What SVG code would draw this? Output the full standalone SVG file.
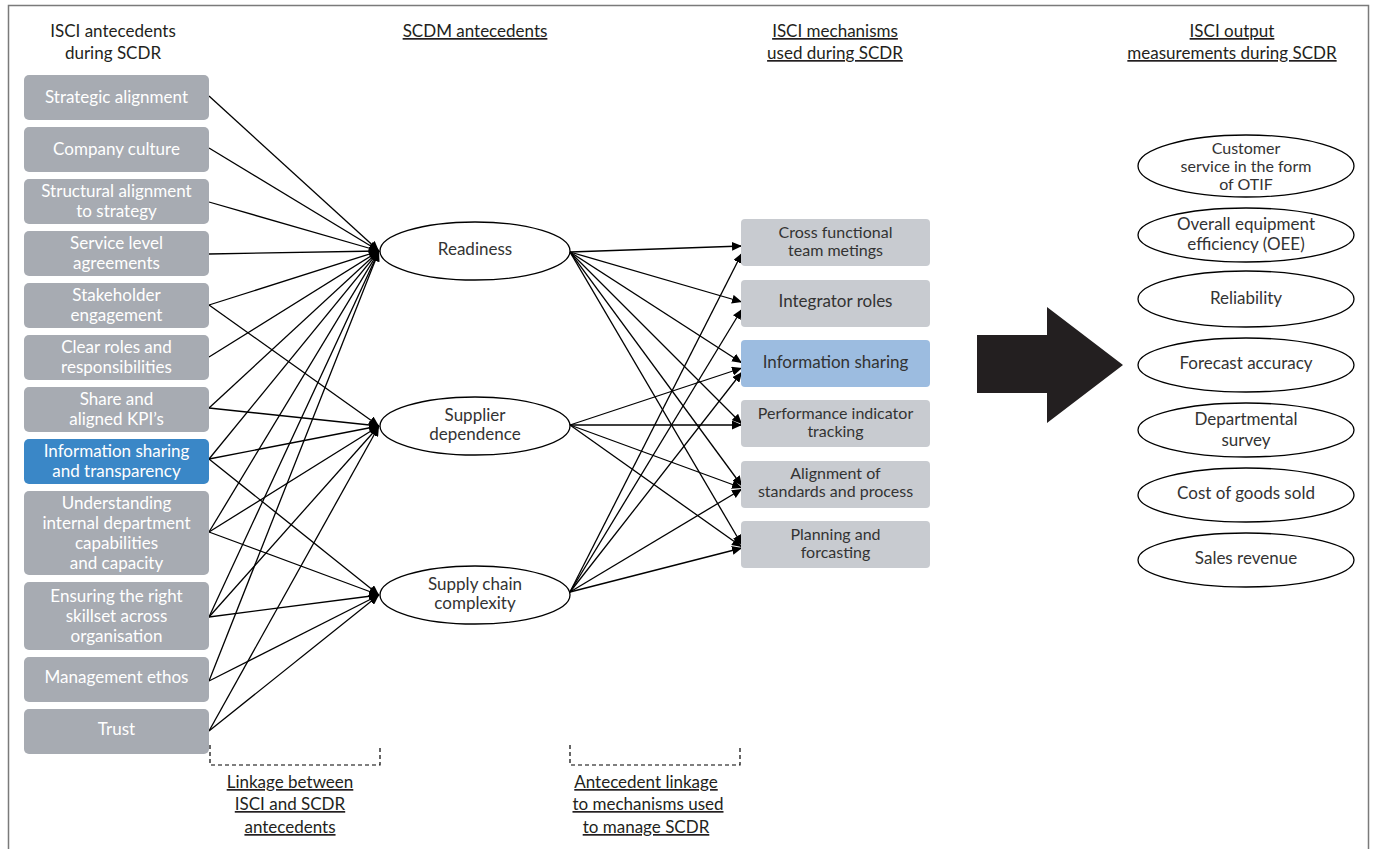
<svg xmlns="http://www.w3.org/2000/svg" width="1375" height="849" viewBox="0 0 1375 849">
<defs>
<marker id="ah" markerUnits="userSpaceOnUse" markerWidth="11" markerHeight="9" refX="10" refY="4.5" orient="auto">
<path d="M0,0 L10,4.5 L0,9 z" fill="#000"/>
</marker>
<style>
text{font-family:Lato,"Liberation Sans",sans-serif;font-size:17px;text-anchor:middle}
.hd{fill:#231f20}
.u{text-decoration:underline}
.lb{fill:#a7abb2}
.lbb{fill:#3a87c7}
.lt{fill:#fff}
.mb{fill:#c8cbd0}
.mbb{fill:#9cbce0}
.mt{fill:#333}
.sm{font-size:16px}
.el{fill:#fff;stroke:#000;stroke-width:1.3}
.cn line{stroke:#000;stroke-width:1.3;marker-end:url(#ah)}
.br{fill:none;stroke:#000;stroke-width:1.2;stroke-dasharray:4,3}
</style>
</defs>
<rect x="8.5" y="5.5" width="1360" height="860" fill="#fff" stroke="#7a7a7a" stroke-width="1.5"/>

<g id="headers" class="hd">
<text x="113" y="37">ISCI antecedents</text>
<text x="113" y="59">during SCDR</text>
<text x="475" y="37" class="u">SCDM antecedents</text>
<text x="835" y="37" class="u">ISCI mechanisms</text>
<text x="835" y="59" class="u">used during SCDR</text>
<text x="1232" y="37" class="u">ISCI output</text>
<text x="1232" y="59" class="u">measurements during SCDR</text>
</g>

<g id="connectors" class="cn">
<line x1="209" y1="96" x2="379" y2="251"/>
<line x1="209" y1="148" x2="379" y2="251"/>
<line x1="209" y1="202" x2="379" y2="251"/>
<line x1="209" y1="254" x2="379" y2="251"/>
<line x1="209" y1="305" x2="379" y2="251"/>
<line x1="209" y1="305" x2="379" y2="426"/>
<line x1="209" y1="357" x2="379" y2="251"/>
<line x1="209" y1="408" x2="379" y2="251"/>
<line x1="209" y1="408" x2="379" y2="426"/>
<line x1="209" y1="459" x2="379" y2="251"/>
<line x1="209" y1="459" x2="379" y2="426"/>
<line x1="209" y1="459" x2="379" y2="595"/>
<line x1="209" y1="532" x2="379" y2="251"/>
<line x1="209" y1="532" x2="379" y2="426"/>
<line x1="209" y1="532" x2="379" y2="595"/>
<line x1="209" y1="617" x2="379" y2="251"/>
<line x1="209" y1="617" x2="379" y2="426"/>
<line x1="209" y1="617" x2="379" y2="595"/>
<line x1="209" y1="681" x2="379" y2="251"/>
<line x1="209" y1="681" x2="379" y2="595"/>
<line x1="209" y1="731" x2="379" y2="426"/>
<line x1="209" y1="731" x2="379" y2="595"/>

<line x1="570" y1="252" x2="742" y2="246"/>
<line x1="570" y1="252" x2="742" y2="302"/>
<line x1="570" y1="252" x2="742" y2="363"/>
<line x1="570" y1="252" x2="742" y2="424"/>
<line x1="570" y1="252" x2="742" y2="486"/>
<line x1="570" y1="252" x2="742" y2="545"/>
<line x1="570" y1="425" x2="742" y2="368"/>
<line x1="570" y1="425" x2="742" y2="425"/>
<line x1="570" y1="425" x2="742" y2="488"/>
<line x1="570" y1="425" x2="742" y2="547"/>
<line x1="570" y1="592" x2="742" y2="253"/>
<line x1="570" y1="592" x2="742" y2="309"/>
<line x1="570" y1="592" x2="742" y2="372"/>
<line x1="570" y1="592" x2="742" y2="489"/>
<line x1="570" y1="592" x2="742" y2="548"/>
</g>

<g id="ant1"><rect class="lb" x="24" y="75" width="185" height="45" rx="5"/><text class="lt" x="116.5" y="103">Strategic alignment</text></g>
<g id="ant2"><rect class="lb" x="24" y="127" width="185" height="45" rx="5"/><text class="lt" x="116.5" y="155">Company culture</text></g>
<g id="ant3"><rect class="lb" x="24" y="179" width="185" height="45" rx="5"/><text class="lt" x="116.5" y="197">Structural alignment</text><text class="lt" x="116.5" y="217">to strategy</text></g>
<g id="ant4"><rect class="lb" x="24" y="231" width="185" height="45" rx="5"/><text class="lt" x="116.5" y="249">Service level</text><text class="lt" x="116.5" y="269">agreements</text></g>
<g id="ant5"><rect class="lb" x="24" y="283" width="185" height="45" rx="5"/><text class="lt" x="116.5" y="301">Stakeholder</text><text class="lt" x="116.5" y="321">engagement</text></g>
<g id="ant6"><rect class="lb" x="24" y="335" width="185" height="45" rx="5"/><text class="lt" x="116.5" y="353">Clear roles and</text><text class="lt" x="116.5" y="373">responsibilities</text></g>
<g id="ant7"><rect class="lb" x="24" y="387" width="185" height="45" rx="5"/><text class="lt" x="116.5" y="405">Share and</text><text class="lt" x="116.5" y="425">aligned KPI’s</text></g>
<g id="ant8"><rect class="lbb" x="24" y="439" width="185" height="45" rx="5"/><text class="lt" x="116.5" y="457">Information sharing</text><text class="lt" x="116.5" y="477">and transparency</text></g>
<g id="ant9"><rect class="lb" x="24" y="491" width="185" height="84" rx="5"/><text class="lt" x="116.5" y="509">Understanding</text><text class="lt" x="116.5" y="529">internal department</text><text class="lt" x="116.5" y="549">capabilities</text><text class="lt" x="116.5" y="569">and capacity</text></g>
<g id="ant10"><rect class="lb" x="24" y="582" width="185" height="68" rx="5"/><text class="lt" x="116.5" y="602">Ensuring the right</text><text class="lt" x="116.5" y="622">skillset across</text><text class="lt" x="116.5" y="642">organisation</text></g>
<g id="ant11"><rect class="lb" x="24" y="657" width="185" height="45" rx="5"/><text class="lt" x="116.5" y="683">Management ethos</text></g>
<g id="ant12"><rect class="lb" x="24" y="709" width="185" height="45" rx="5"/><text class="lt" x="116.5" y="735">Trust</text></g>

<g id="readiness"><ellipse class="el" cx="475" cy="251" rx="95" ry="29"/><text class="mt" x="475" y="255">Readiness</text></g>
<g id="supplier"><ellipse class="el" cx="475" cy="426" rx="95" ry="29"/><text class="mt" x="475" y="421">Supplier</text><text class="mt" x="475" y="440">dependence</text></g>
<g id="complexity"><ellipse class="el" cx="475" cy="595" rx="95" ry="29"/><text class="mt" x="475" y="590">Supply chain</text><text class="mt" x="475" y="609">complexity</text></g>

<g id="mech1"><rect class="mb" x="741" y="219" width="189" height="47" rx="4"/><text class="mt sm" x="835.5" y="238">Cross functional</text><text class="mt sm" x="835.5" y="256">team metings</text></g>
<g id="mech2"><rect class="mb" x="741" y="280" width="189" height="47" rx="4"/><text class="mt" x="835.5" y="307">Integrator roles</text></g>
<g id="mech3"><rect class="mbb" x="741" y="340" width="189" height="47" rx="4"/><text class="mt" x="835.5" y="368">Information sharing</text></g>
<g id="mech4"><rect class="mb" x="741" y="400" width="189" height="47" rx="4"/><text class="mt sm" x="835.5" y="419">Performance indicator</text><text class="mt sm" x="835.5" y="437">tracking</text></g>
<g id="mech5"><rect class="mb" x="741" y="461" width="189" height="47" rx="4"/><text class="mt sm" x="835.5" y="479">Alignment of</text><text class="mt sm" x="835.5" y="497">standards and process</text></g>
<g id="mech6"><rect class="mb" x="741" y="521" width="189" height="47" rx="4"/><text class="mt sm" x="835.5" y="540">Planning and</text><text class="mt sm" x="835.5" y="558">forcasting</text></g>

<g id="bigarrow"><polygon points="977,335 1047,335 1047,307 1123,365 1047,423 1047,393 977,393" fill="#231f20"/></g>

<g id="out1"><ellipse class="el" cx="1246" cy="166" rx="108" ry="31"/><text class="mt sm" x="1246" y="154">Customer</text><text class="mt sm" x="1246" y="172">service in the form</text><text class="mt sm" x="1246" y="190">of OTIF</text></g>
<g id="out2"><ellipse class="el" cx="1246" cy="235" rx="108" ry="27"/><text class="mt" x="1246" y="230">Overall equipment</text><text class="mt" x="1246" y="250">efficiency (OEE)</text></g>
<g id="out3"><ellipse class="el" cx="1246" cy="299" rx="108" ry="28"/><text class="mt" x="1246" y="304">Reliability</text></g>
<g id="out4"><ellipse class="el" cx="1246" cy="365" rx="108" ry="27"/><text class="mt" x="1246" y="369">Forecast accuracy</text></g>
<g id="out5"><ellipse class="el" cx="1246" cy="430" rx="108" ry="27"/><text class="mt" x="1246" y="425">Departmental</text><text class="mt" x="1246" y="446">survey</text></g>
<g id="out6"><ellipse class="el" cx="1246" cy="495" rx="108" ry="27"/><text class="mt" x="1246" y="499">Cost of goods sold</text></g>
<g id="out7"><ellipse class="el" cx="1246" cy="560" rx="108" ry="27"/><text class="mt" x="1246" y="564">Sales revenue</text></g>

<g id="bracket1"><path class="br" d="M210,745 V765 H380 V745"/><text class="hd u" x="290" y="788">Linkage between</text><text class="hd u" x="290" y="810">ISCI and SCDR</text><text class="hd u" x="290" y="833">antecedents</text></g>
<g id="bracket2"><path class="br" d="M570,745 V765 H740 V745"/><text class="hd u" x="646" y="788">Antecedent linkage</text><text class="hd u" x="648" y="810">to mechanisms used</text><text class="hd u" x="646" y="833">to manage SCDR</text></g>
</svg>
